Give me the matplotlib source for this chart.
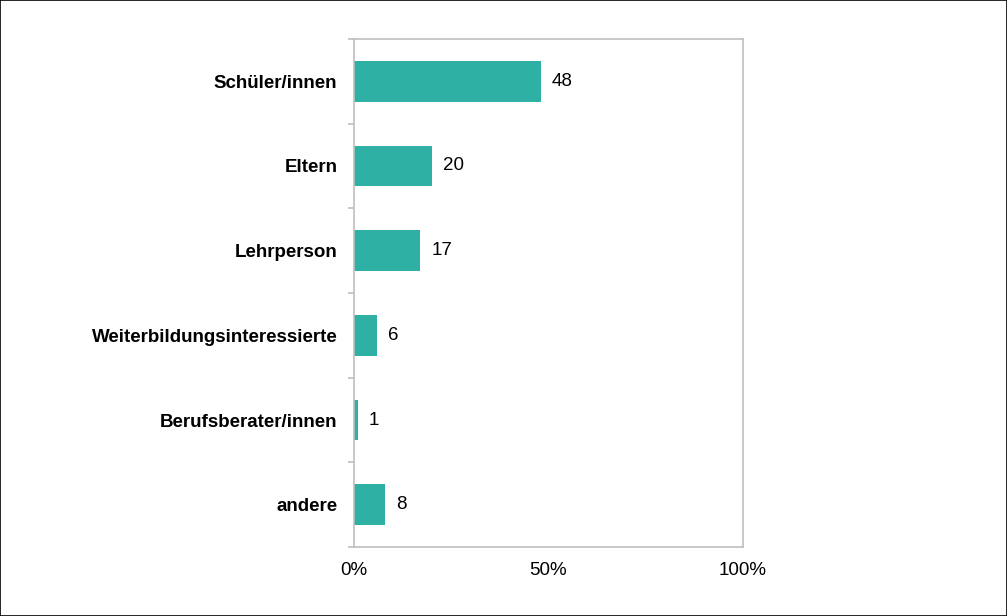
import matplotlib
matplotlib.use("Agg")
import matplotlib.pyplot as plt
from matplotlib.patches import Rectangle

categories = ["Schüler/innen", "Eltern", "Lehrperson", "Weiterbildungsinteressierte",
              "Berufsberater/innen", "andere"]
values = [48, 20, 17, 6, 1, 8]
xtick_labels = ["0%", "50%", "100%"]

bar_color = "#2EB0A4"
spine_color = "#BFBFBF"

plt.rcParams["font.family"] = ["Liberation Sans", "DejaVu Sans"]

fig = plt.figure(figsize=(10.07, 6.16), dpi=100)
ax = fig.add_axes([0.3515, 0.112, 0.3863, 0.8247])

ypos = list(range(len(categories)))
ax.barh(ypos, values, height=0.48, color=bar_color)
ax.set_ylim(len(categories) - 0.5, -0.5)
ax.set_xlim(0, 100)

for y, v in zip(ypos, values):
    ax.annotate(str(v), (v, y), xytext=(8, 0), textcoords="offset points",
                va="center", ha="left", fontsize=13.5)

ax.set_yticks(ypos)
ax.set_yticklabels(categories, fontsize=13.5, fontweight="bold")
ax.tick_params(axis="y", length=0, pad=12)
# small ticks between categories
ax.set_yticks([i + 0.5 for i in range(-1, len(categories))], minor=True)
ax.tick_params(axis="y", which="minor", length=4, color=spine_color, width=1.2)

ax.set_xticks([0, 50, 100])
ax.set_xticklabels(xtick_labels, fontsize=13.5)
ax.tick_params(axis="x", length=0, pad=11)

for s in ax.spines.values():
    s.set_color(spine_color)
    s.set_linewidth(1.2)

fig.patches.append(Rectangle((0, 0), 1, 1, transform=fig.transFigure, fill=False,
                             edgecolor="black", linewidth=1.2))

fig.savefig("out.png", dpi=100)
